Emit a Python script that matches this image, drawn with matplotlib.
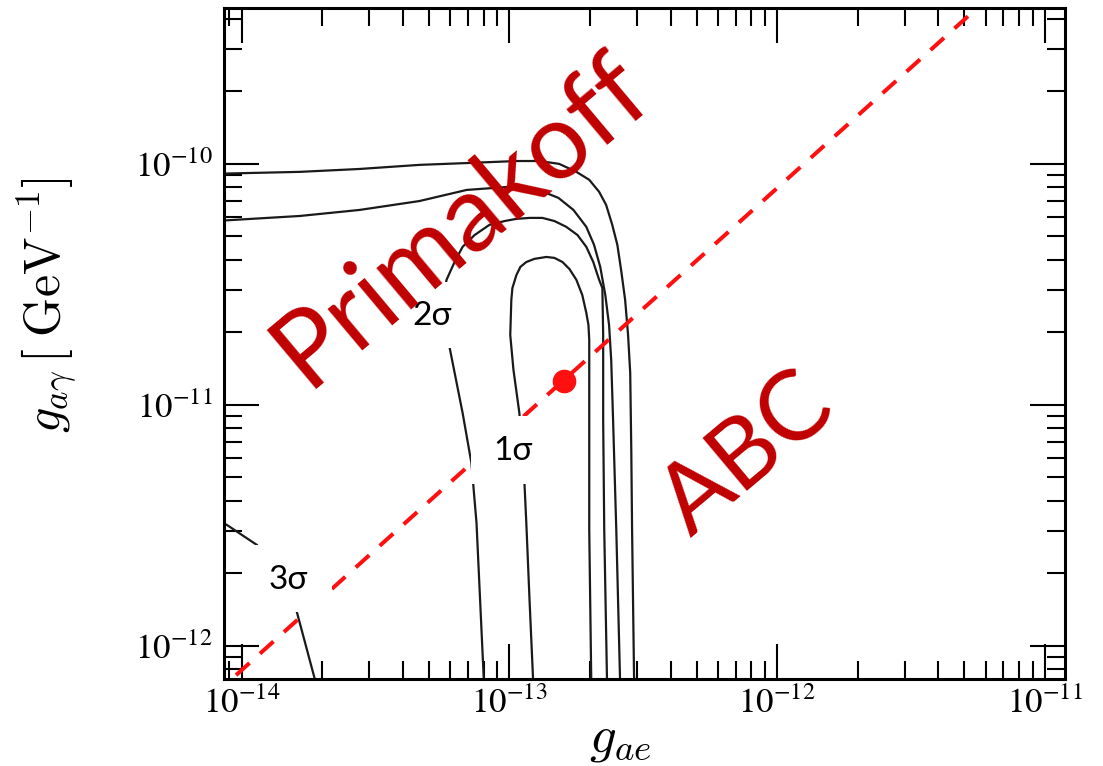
import matplotlib
matplotlib.use("Agg")
import matplotlib.pyplot as plt
import numpy as np
from matplotlib.ticker import LogLocator, NullFormatter
from matplotlib.patches import Rectangle

# ---------------- data (log10 values) ----------------
# outermost contour
outer_x = [-14.10, -13.783, -13.560, -13.336, -13.149, -12.974, -12.888, -12.814,
           -12.750, -12.702, -12.665, -12.639, -12.616, -12.597, -12.583, -12.568,
           -12.557, -12.549, -12.545, -12.542, -12.534]
outer_y = [-10.041, -10.033, -10.021, -10.004, -9.996, -9.988, -9.988, -10.000,
           -10.033, -10.066, -10.116, -10.170, -10.253, -10.336, -10.440, -10.564,
           -10.710, -10.867, -11.187, -11.519, -12.183]

# 3 sigma contour, upper/right piece
sig3_x = [-14.10, -13.783, -13.560, -13.336, -13.160, -13.000, -12.955, -12.873,
          -12.817, -12.761, -12.713, -12.684, -12.661, -12.642, -12.628, -12.620,
          -12.613, -12.601, -12.586]
sig3_y = [-10.237, -10.216, -10.191, -10.154, -10.108, -10.095, -10.095, -10.116,
          -10.141, -10.191, -10.261, -10.336, -10.427, -10.544, -10.668, -10.813,
          -11.062, -11.519, -12.183]

# 3 sigma contour, lower-left piece
sig3b_x = [-14.08, -14.055, -13.943, -13.870, -13.794, -13.716]
sig3b_y = [-11.485, -11.498, -11.581, -11.700, -11.859, -12.183]

# 2 sigma contour
sig2_x = [-13.094, -13.123, -13.142, -13.175, -13.224, -13.242, -13.250, -13.246,
          -13.235, -13.205, -13.175, -13.130, -13.075, -13.018, -12.974, -12.925,
          -12.877, -12.832, -12.788, -12.746, -12.713, -12.687, -12.665, -12.653,
          -12.650, -12.650, -12.646, -12.635]
sig2_y = [-12.183, -11.490, -11.241, -11.033, -10.759, -10.689, -10.614, -10.548,
          -10.481, -10.407, -10.344, -10.295, -10.253, -10.237, -10.228, -10.224,
          -10.224, -10.237, -10.261, -10.295, -10.344, -10.407, -10.481, -10.515,
          -10.710, -11.062, -11.519, -12.183]

# 1 sigma contour
sig1_x = [-12.910, -12.925, -12.937, -12.944, -12.963, -12.985, -12.997, -12.993,
          -12.989, -12.974, -12.959, -12.937, -12.907, -12.862, -12.832, -12.802,
          -12.776, -12.750, -12.728, -12.713, -12.705, -12.702, -12.702, -12.702,
          -12.694]
sig1_y = [-12.183, -11.809, -11.490, -11.324, -11.033, -10.855, -10.710, -10.564,
          -10.515, -10.461, -10.427, -10.407, -10.394, -10.386, -10.390, -10.407,
          -10.436, -10.481, -10.544, -10.618, -10.668, -10.730, -11.062, -11.519,
          -12.183]

# red dashed line (end points) and best-fit point
line_x = [-14.2, -11.0]
line_y = [-12.3, -9.1]
best_gae = 1.6e-13
best_gag = 1.26e-11

x_ticks = [1e-14, 1e-13, 1e-12, 1e-11]
x_tick_labels = [r'$10^{-14}$', r'$10^{-13}$', r'$10^{-12}$', r'$10^{-11}$']
y_ticks = [1e-12, 1e-11, 1e-10]
y_tick_labels = [r'$10^{-12}$', r'$10^{-11}$', r'$10^{-10}$']

sigma_labels = ['1σ', '2σ', '3σ']

# ---------------- plot ----------------
plt.rcParams['font.family'] = 'serif'
plt.rcParams['font.serif'] = ['Liberation Serif', 'DejaVu Serif']
plt.rcParams['mathtext.fontset'] = 'stix'

fig = plt.figure(figsize=(11.03, 7.66), dpi=100)
ax = fig.add_axes([0.2031, 0.1136, 0.7625, 0.876])
ax.set_xscale('log')
ax.set_yscale('log')

line_kw = dict(color='#1a1a1a', lw=1.6, zorder=2, solid_joinstyle='round')
for cx, cy in [(outer_x, outer_y), (sig3_x, sig3_y), (sig3b_x, sig3b_y),
               (sig2_x, sig2_y), (sig1_x, sig1_y)]:
    ax.plot(10 ** np.array(cx), 10 ** np.array(cy), **line_kw)

ax.plot(10 ** np.array(line_x), 10 ** np.array(line_y), color='#ff1010',
        lw=2.9, dashes=(4.5, 3.5), zorder=3)
ax.plot(best_gae, best_gag, 'o', color='#ff1010', ms=16, zorder=4)

ax.set_xlim(10 ** -14.066, 10 ** -10.925)
ax.set_ylim(10 ** -12.137, 10 ** -9.353)

# white boxes behind the sigma labels
boxes = [(0.294, 0.291, 0.067, 0.101), (0.215, 0.493, 0.066, 0.099),
         (0.030, 0.100, 0.098, 0.100)]
for (bx, by, bw, bh) in boxes:
    ax.add_patch(Rectangle((bx, by), bw, bh, transform=ax.transAxes,
                           facecolor='white', edgecolor='none', zorder=5))

sans = ['Lato', 'Open Sans', 'DejaVu Sans']
label_pos = [(0.344, 0.340), (0.247, 0.541), (0.076, 0.148)]
for lab, (tx, ty) in zip(sigma_labels, label_pos):
    ax.text(tx, ty, lab, transform=ax.transAxes, ha='center', va='center',
            fontsize=24, color='black', family=sans, zorder=6)

ax.text(0.282, 0.683, 'Primakoff', transform=ax.transAxes, rotation=40,
        rotation_mode='anchor', ha='center', va='center', fontsize=76,
        color='#c00000', family=sans, zorder=7)
ax.text(0.622, 0.334, 'ABC', transform=ax.transAxes, rotation=40,
        rotation_mode='anchor', ha='center', va='center', fontsize=70,
        color='#c00000', family=sans, zorder=7)

# ticks
ax.set_xticks(x_ticks, labels=x_tick_labels)
ax.set_yticks(y_ticks, labels=y_tick_labels)
ax.xaxis.set_minor_locator(LogLocator(base=10, subs=np.arange(2, 10)))
ax.yaxis.set_minor_locator(LogLocator(base=10, subs=np.arange(2, 10)))
ax.xaxis.set_minor_formatter(NullFormatter())
ax.yaxis.set_minor_formatter(NullFormatter())
ax.tick_params(which='both', direction='in', top=True, right=True, colors='black')
ax.tick_params(which='major', length=25, width=1.5, labelsize=25)
ax.tick_params(which='minor', length=13, width=1.5)
ax.tick_params(axis='x', which='major', pad=6)
ax.tick_params(axis='y', which='major', pad=8)
for sp in ax.spines.values():
    sp.set_linewidth(2.2)

ax.set_xlabel(r'$g_{ae}$', fontsize=38, math_fontfamily='cm', va='center')
ax.xaxis.set_label_coords(0.471, -0.091)
ax.set_ylabel(r'$g_{a\gamma}\,[\;\mathrm{GeV}^{-1}]$', fontsize=36,
              math_fontfamily='cm', va='center')
ax.yaxis.set_label_coords(-0.209, 0.557)

fig.savefig('out.png', dpi=100, facecolor='white')
